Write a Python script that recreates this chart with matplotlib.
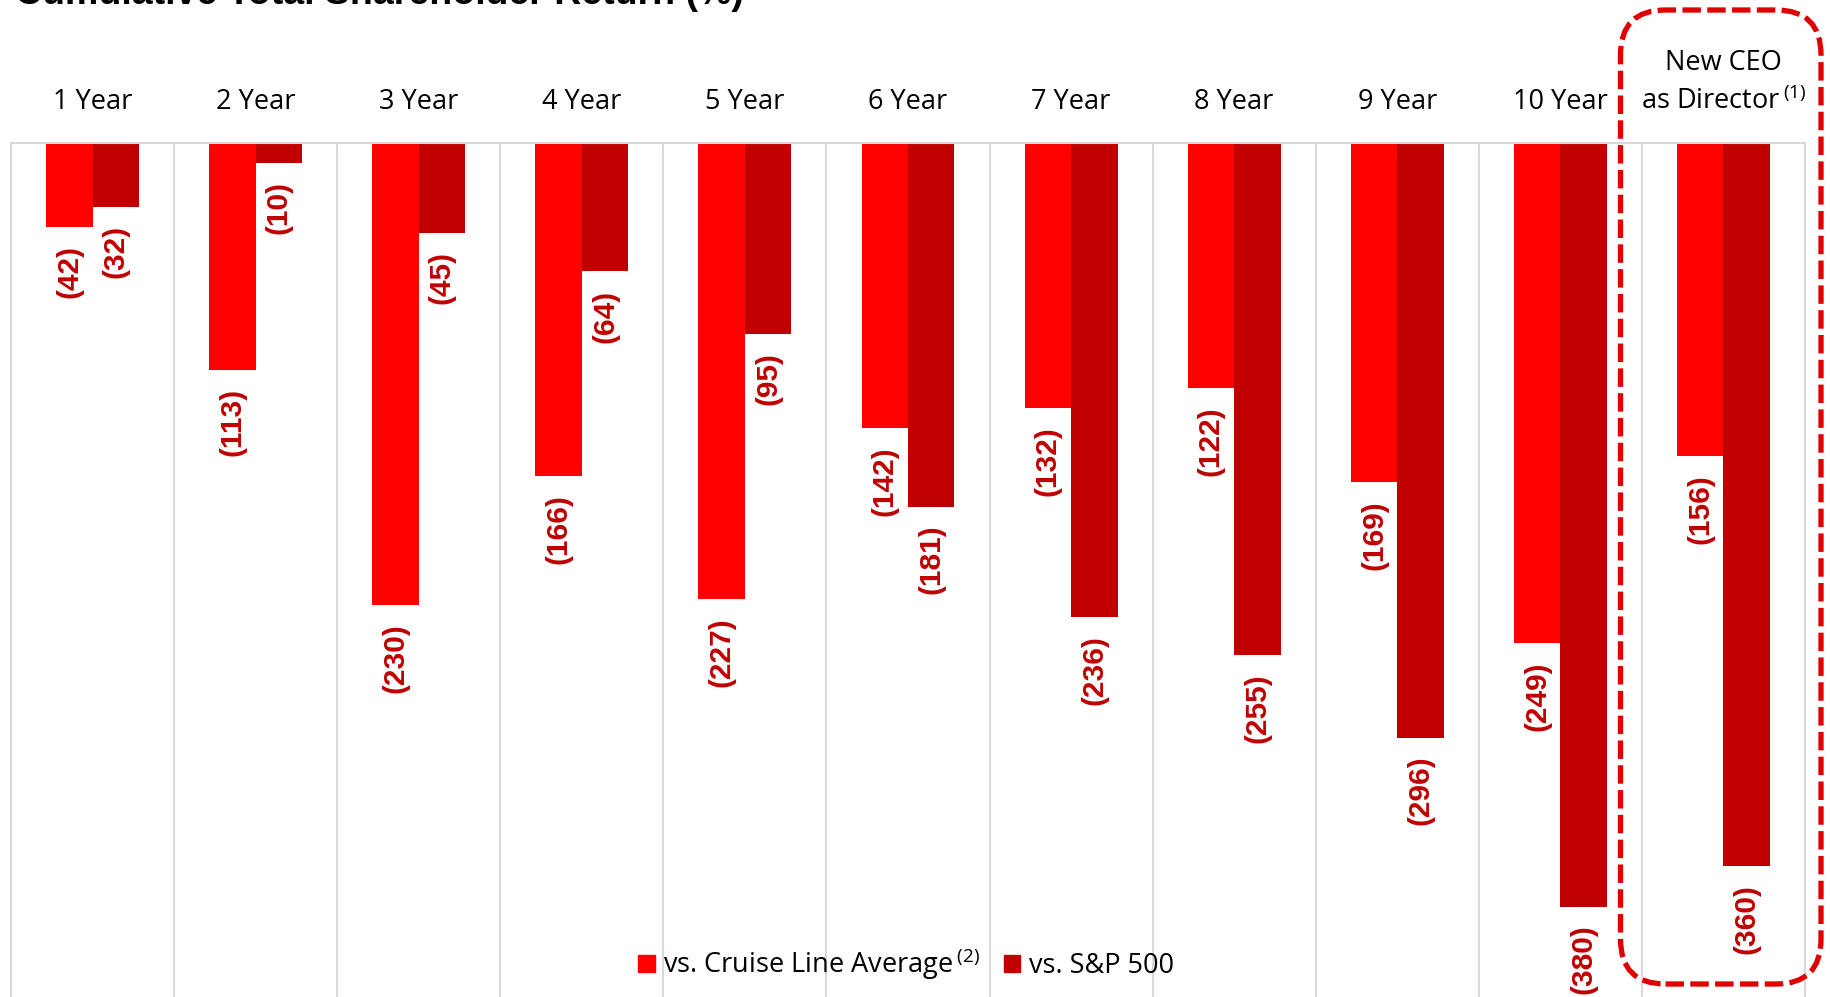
import numpy as np
import matplotlib.pyplot as plt
from matplotlib.patches import Patch, FancyBboxPatch
from matplotlib.transforms import IdentityTransform

# cumulative TSR gap (percentage points) by holding period
periods = ['1 Year', '2 Year', '3 Year', '4 Year', '5 Year', '6 Year',
           '7 Year', '8 Year', '9 Year', '10 Year',
           'New CEO\nas Director$\\,^{(1)}$']
vs_cruise = [-42, -113, -230, -166, -227, -142, -132, -122, -169, -249, -156]
vs_sp500 = [-32, -10, -45, -64, -95, -181, -236, -255, -296, -380, -360]
series_names = ['vs. Cruise Line Average$\\,^{(2)}$', 'vs. S&P 500']

plt.rcParams['font.family'] = 'Open Sans'
plt.rcParams['mathtext.fontset'] = 'custom'
plt.rcParams['mathtext.rm'] = 'Open Sans'
plt.rcParams['mathtext.it'] = 'Open Sans:italic'

fig = plt.figure(figsize=(18.3, 9.97), dpi=100)
W, H = 1830, 997
ax = fig.add_axes([11 / W, 0, 1794 / W, 1 - 142.7 / H])

x = np.arange(len(periods))
w = 0.285
b1 = ax.bar(x - w / 2, vs_cruise, w, color='#FF0000', label=series_names[0], zorder=2)
b2 = ax.bar(x + w / 2, vs_sp500, w, color='#C00000', label=series_names[1], zorder=2)

# value labels in brackets under each bar
for bars, vals in ((b1, vs_cruise), (b2, vs_sp500)):
    for rect, v in zip(bars, vals):
        ax.annotate(f'({-v})', (rect.get_x() + rect.get_width() / 2, v),
                    xytext=(0, -13), textcoords='offset points',
                    rotation=90, ha='center', va='top',
                    fontsize=21.5, fontweight='bold', color='#C00000',
                    family='Liberation Sans')

ax.set_xlim(-0.5, len(periods) - 0.5)
ax.set_ylim(-425, 0)
ax.set_yticks([])
ax.xaxis.tick_top()
ax.set_xticks(x)
ax.set_xticklabels(periods, fontsize=19.5, linespacing=1.45)
ax.tick_params(axis='x', which='major', length=0, pad=19.5)
ax.set_xticks(np.arange(-0.5, len(periods), 1), minor=True)
ax.tick_params(axis='x', which='minor', length=0)
ax.grid(which='minor', axis='x', color='#D9D9D9', linewidth=1.5, zorder=0)
ax.set_axisbelow(True)
for side in ['top', 'left', 'right']:
    ax.spines[side].set_color('#D9D9D9')
    ax.spines[side].set_linewidth(1.5)
ax.spines['bottom'].set_visible(False)

handles = [Patch(color='#FF0000'), Patch(color='#C00000')]
fig.legend(handles, series_names, loc='center', bbox_to_anchor=(906 / W, 1 - 964 / H),
           ncol=2, frameon=False, fontsize=19.5, handlelength=0.6, handleheight=0.6,
           handletextpad=0.3, columnspacing=0.9, borderpad=0, borderaxespad=0)

fig.text(15 / W, 1 - 3.5 / H, 'Cumulative Total Shareholder Return (%)',
         fontsize=27, fontweight='bold', family='Liberation Sans', va='baseline')

# dashed highlight around the last group
box = FancyBboxPatch((1620.5, 13), 200.5, 974,
                     boxstyle='round,pad=0,rounding_size=45',
                     transform=IdentityTransform(), fill=False,
                     edgecolor='#E00000', linewidth=3.8, linestyle=(0, (3.5, 1.2)),
                     zorder=10)
fig.add_artist(box)

fig.savefig('out.png', dpi=100)
